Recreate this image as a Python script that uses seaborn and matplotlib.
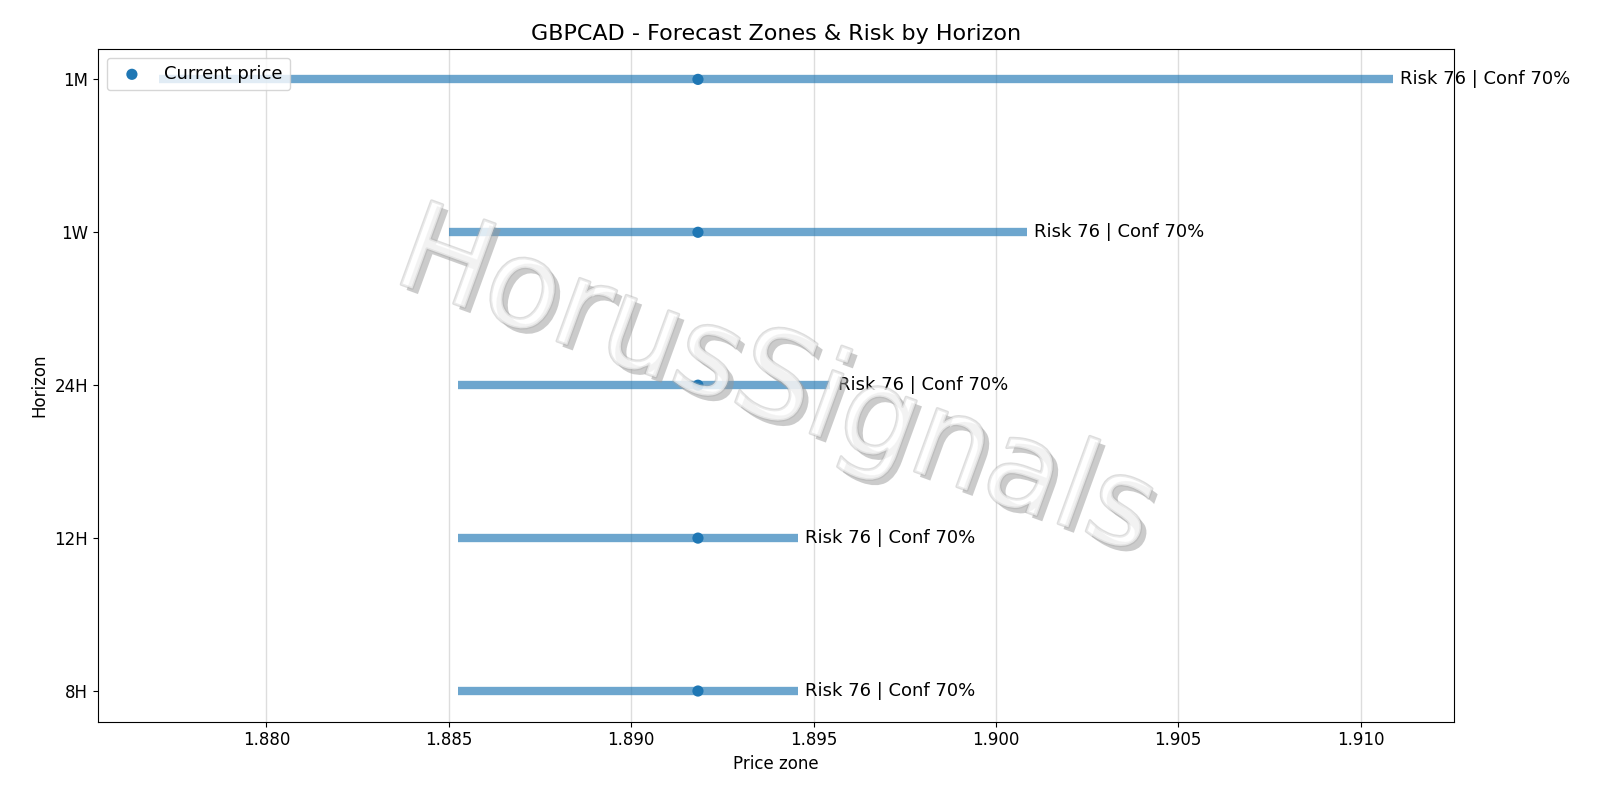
import matplotlib
matplotlib.use("Agg")
import matplotlib.pyplot as plt
import matplotlib.patheffects as pe
import seaborn as sns
import pandas as pd

horizons = ["8H", "12H", "24H", "1W", "1M"]
low = [1.88524, 1.88524, 1.88524, 1.8850, 1.87706]
high = [1.89457, 1.89457, 1.89546, 1.90084, 1.91088]
current = 1.89183
risk = [76, 76, 76, 76, 76]
conf = [70, 70, 70, 70, 70]

plt.style.use("default")
plt.rcParams['font.family'] = ['DejaVu Sans']
fig, ax = plt.subplots(figsize=(16, 8), dpi=100)
fig.subplots_adjust(left=0.061, right=0.909, top=0.939, bottom=0.098)
ypos = list(range(len(horizons)))
ax.hlines(ypos, low, high, color="C0", alpha=0.65, lw=6, zorder=2)
df = pd.DataFrame({"x": [current] * len(horizons), "y": ypos})
sns.scatterplot(data=df, x="x", y="y", ax=ax, color="C0", s=65, edgecolor="none",
                label="Current price", zorder=3)
for y, h, r, c in zip(ypos, high, risk, conf):
    ax.text(h + 0.0002, y, f"Risk {r} | Conf {c}%", va="center", fontsize=13)
ax.set_yticks(ypos)
ax.set_yticklabels(horizons, fontsize=12)
ax.tick_params(axis="x", labelsize=12)
ax.set_xticks([1.880, 1.885, 1.890, 1.895, 1.900, 1.905, 1.910])
ax.set_xticklabels(["1.880", "1.885", "1.890", "1.895", "1.900", "1.905", "1.910"])
ax.margins(x=0.05)
ax.set_ylim(-0.2, 4.2)
ax.grid(axis="x", color="#dddddd", lw=1)
ax.set_axisbelow(True)
ax.set_xlabel("Price zone", fontsize=12)
ax.set_ylabel("Horizon", fontsize=12)
ax.set_title("GBPCAD - Forecast Zones & Risk by Horizon", fontsize=16)
ax.legend(loc="upper left", fontsize=13)
ax.text(0.5, 0.5, "HorusSignals", transform=ax.transAxes, ha="center", va="center",
        fontsize=88, rotation=-20, color="white", alpha=0.4, zorder=4,
        path_effects=[pe.withSimplePatchShadow(offset=(4, -4), shadow_rgbFace="#999999", alpha=0.5),
                      pe.withStroke(linewidth=2, foreground="#aaaaaa")])
fig.savefig("out.png", dpi=100)
